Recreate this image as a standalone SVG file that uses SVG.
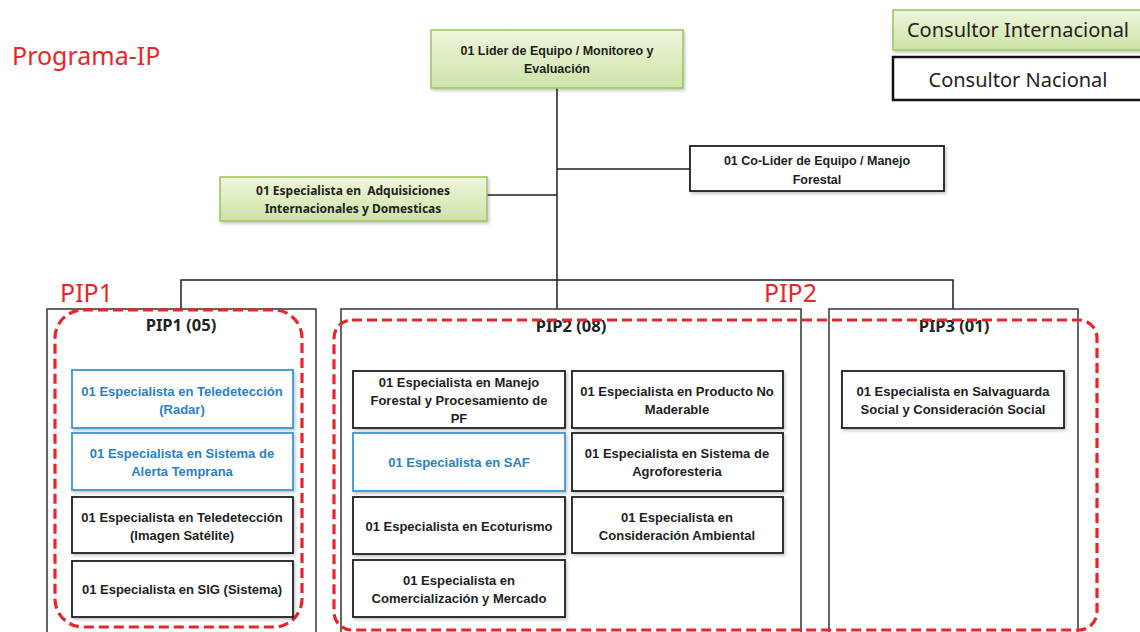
<svg xmlns="http://www.w3.org/2000/svg" width="1140" height="632" viewBox="0 0 1140 632">
  <defs>
    <linearGradient id="green" x1="0" y1="0" x2="0" y2="1">
      <stop offset="0" stop-color="#eff6dc"/>
      <stop offset="1" stop-color="#cce3a6"/>
    </linearGradient>
    <filter id="shadow" x="-5%" y="-10%" width="112%" height="130%">
      <feDropShadow dx="1.5" dy="2" stdDeviation="1.5" flood-color="#000" flood-opacity="0.22"/>
    </filter>
    <style>
      .title { font-family: "Noto Sans", "Open Sans", sans-serif; fill: #e8262a; font-size: 25px; }
      .legend { font-family: "Noto Sans", "Open Sans", sans-serif; fill: #222; font-size: 20px; text-anchor: middle; }
      .head { font-family: "Noto Sans", "Open Sans", sans-serif; font-weight: bold; fill: #222; font-size: 16.5px; text-anchor: middle; }
      .lbl { font-family: "Liberation Sans Narrow", "Liberation Sans", "Arial Narrow", sans-serif; font-weight: bold; font-size: 13px; fill: #1e1e1e; text-anchor: middle; }
      .lbl.blue { fill: #2b7fc8; }
      .lbl.top { font-size: 12.5px; }
      .wide { font-family: "Noto Sans", "Open Sans", sans-serif; font-weight: bold; font-size: 12px; fill: #222; text-anchor: middle; white-space: pre; }
      .gbox { fill: url(#green); stroke: #9cc25c; stroke-width: 1.5; filter: url(#shadow); }
      .wbox { fill: #fff; stroke: #1e1e1e; stroke-width: 1.8; filter: url(#shadow); }
      .bbox { fill: #fff; stroke: #3b94d9; stroke-width: 1.8; filter: url(#shadow); }
      .frame { fill: none; stroke: #333; stroke-width: 1.5; }
      .pip { fill: none; stroke: #e8262a; stroke-width: 3.2; stroke-dasharray: 10 5; }
      .wire { fill: none; stroke: #1e1e1e; stroke-width: 1.5; }
    </style>
  </defs>

  <rect width="1140" height="632" fill="#fff"/>

  <!-- headings -->
  <text class="title" x="12" y="65">Programa-IP</text>
  <text class="title" x="60" y="302">PIP1</text>
  <text class="title" x="764" y="302">PIP2</text>

  <!-- legend -->
  <g id="legend-internacional">
    <rect class="gbox" x="893" y="10" width="260" height="40"/>
    <text class="legend" x="1018" y="37">Consultor Internacional</text>
  </g>
  <g id="legend-nacional">
    <rect x="893" y="57" width="260" height="43" fill="#fff" stroke="#111" stroke-width="2.5"/>
    <text class="legend" x="1018" y="87">Consultor Nacional</text>
  </g>

  <!-- connectors -->
  <g id="connectors">
    <path class="wire" d="M557 88 V280"/>
    <path class="wire" d="M487 195 H557"/>
    <path class="wire" d="M557 169 H690"/>
    <path class="wire" d="M181 309 V280 H953 V309"/>
    <path class="wire" d="M557 280 V309"/>
  </g>

  <!-- top management -->
  <g id="lider">
    <rect class="gbox" x="431" y="30" width="252" height="58"/>
    <text class="lbl top" x="557" y="55">01 Lider de Equipo / Monitoreo y</text>
    <text class="lbl top" x="557" y="73">Evaluación</text>
  </g>
  <g id="adquisiciones">
    <rect class="gbox" x="220" y="177" width="267" height="44"/>
    <text class="wide" x="353" y="195" xml:space="preserve">01 Especialista en  Adquisiciones</text>
    <text class="wide" x="353" y="213">Internacionales y Domesticas</text>
  </g>
  <g id="co-lider">
    <rect class="wbox" x="690" y="146" width="254" height="45"/>
    <text class="lbl top" x="817" y="165">01 Co-Lider de Equipo / Manejo</text>
    <text class="lbl top" x="817" y="184">Forestal</text>
  </g>

  <!-- PIP1 -->
  <g id="pip1">
    <rect class="frame" x="47" y="309" width="269" height="340"/>
    <text class="head" x="181" y="331">PIP1 (05)</text>
    <rect class="pip" x="55" y="310" width="247" height="317" rx="28"/>
  </g>
  <g id="pip1-radar">
    <rect class="bbox" x="72" y="370" width="221" height="58"/>
    <text class="lbl blue" x="182" y="396">01 Especialista en Teledetección</text>
    <text class="lbl blue" x="182" y="414">(Radar)</text>
  </g>
  <g id="pip1-alerta">
    <rect class="bbox" x="72" y="433" width="221" height="57"/>
    <text class="lbl blue" x="182" y="458">01 Especialista en Sistema de</text>
    <text class="lbl blue" x="182" y="476">Alerta Temprana</text>
  </g>
  <g id="pip1-satelite">
    <rect class="wbox" x="72" y="497" width="221" height="56"/>
    <text class="lbl" x="182" y="522">01 Especialista en Teledetección</text>
    <text class="lbl" x="182" y="540">(Imagen Satélite)</text>
  </g>
  <g id="pip1-sig">
    <rect class="wbox" x="72" y="561" width="221" height="56"/>
    <text class="lbl" x="182" y="594">01 Especialista en SIG (Sistema)</text>
  </g>

  <!-- PIP2 -->
  <g id="pip2">
    <rect class="frame" x="341" y="309" width="460" height="340"/>
    <text class="head" x="571" y="332">PIP2 (08)</text>
  </g>
  <g id="pip2-manejo">
    <rect class="wbox" x="353" y="371" width="212" height="57"/>
    <text class="lbl" x="459" y="387">01 Especialista en Manejo</text>
    <text class="lbl" x="459" y="405">Forestal y Procesamiento de</text>
    <text class="lbl" x="459" y="423">PF</text>
  </g>
  <g id="pip2-producto">
    <rect class="wbox" x="572" y="371" width="211" height="57"/>
    <text class="lbl" x="677" y="396">01 Especialista en Producto No</text>
    <text class="lbl" x="677" y="414">Maderable</text>
  </g>
  <g id="pip2-saf">
    <rect class="bbox" x="353" y="433" width="212" height="58"/>
    <text class="lbl blue" x="459" y="467">01 Especialista en SAF</text>
  </g>
  <g id="pip2-agroforesteria">
    <rect class="wbox" x="572" y="433" width="211" height="58"/>
    <text class="lbl" x="677" y="458">01 Especialista en Sistema de</text>
    <text class="lbl" x="677" y="476">Agroforesteria</text>
  </g>
  <g id="pip2-ecoturismo">
    <rect class="wbox" x="353" y="497" width="212" height="57"/>
    <text class="lbl" x="459" y="531">01 Especialista en Ecoturismo</text>
  </g>
  <g id="pip2-ambiental">
    <rect class="wbox" x="572" y="497" width="211" height="56"/>
    <text class="lbl" x="677" y="522">01 Especialista en</text>
    <text class="lbl" x="677" y="540">Consideración Ambiental</text>
  </g>
  <g id="pip2-comercializacion">
    <rect class="wbox" x="353" y="560" width="212" height="57"/>
    <text class="lbl" x="459" y="585">01 Especialista en</text>
    <text class="lbl" x="459" y="603">Comercialización y Mercado</text>
  </g>

  <!-- PIP3 -->
  <g id="pip3">
    <rect class="frame" x="829" y="309" width="249" height="340"/>
    <text class="head" x="954" y="332">PIP3 (01)</text>
  </g>
  <g id="pip3-salvaguarda">
    <rect class="wbox" x="842" y="371" width="222" height="57"/>
    <text class="lbl" x="953" y="396">01 Especialista en Salvaguarda</text>
    <text class="lbl" x="953" y="414">Social y Consideración Social</text>
  </g>

  <!-- dashed grouping around PIP2 and PIP3 -->
  <rect id="pip2-group" class="pip" x="334" y="320" width="763" height="310" rx="18"/>
</svg>
